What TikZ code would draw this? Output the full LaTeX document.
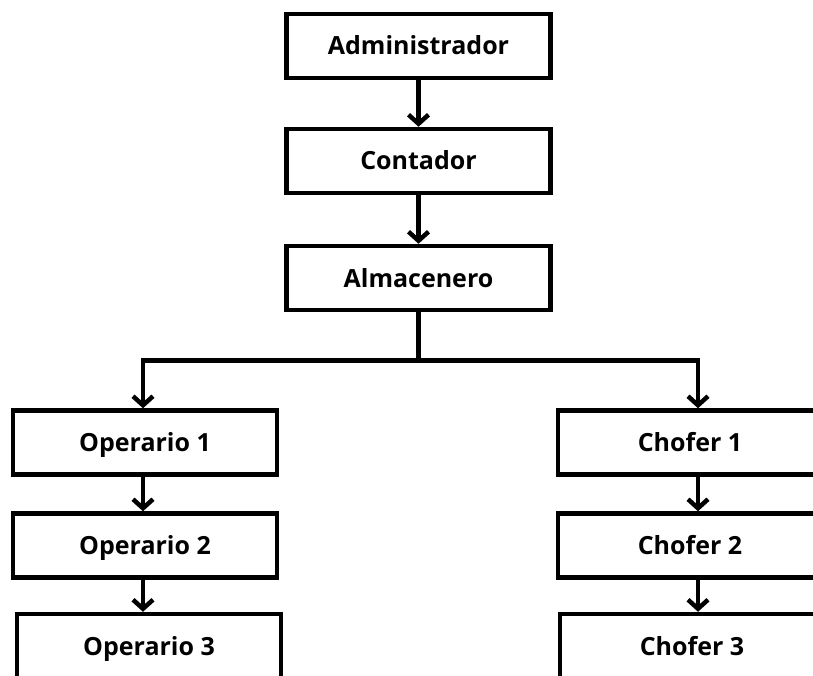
\documentclass[tikz,border=0pt]{standalone}
\usepackage{fontspec}
\setmainfont{Open Sans}
\usetikzlibrary{arrows.meta}
\begin{document}
\begin{tikzpicture}[x=1pt,y=1pt,
  box/.style={draw=black, line width=4.5pt, fill=white, rectangle,
    minimum width=264pt, minimum height=64pt, inner sep=0pt,
    text height=18pt, text depth=0pt,
    font=\fontsize{25}{29}\selectfont\bfseries},
  link/.style={line width=4.5pt, -{Straight Barb[length=9pt,width=20pt,line width=4.5pt]}}]
\clip (0,0) rectangle (813,-676);
\fill[white] (0,0) rectangle (813,-676);
% top chain
\node[box] (adm) at (418.5,-46) {Administrador};
\node[box] (con) at (418.5,-161) {Contador};
\node[box] (alm) at (418.5,-278) {Almacenero};
% left column
\node[box] (op1) at (145,-442.5) {Operario 1};
\node[box] (op2) at (145,-545.5) {Operario 2};
\node[box] (op3) at (149,-646) {Operario 3};
% right column
\node[box] (ch1) at (690,-442.5) {Chofer 1};
\node[box] (ch2) at (690,-545.5) {Chofer 2};
\node[box] (ch3) at (692,-646) {Chofer 3};
% connectors
\draw[link] (adm.south) -- (con.north);
\draw[link] (con.south) -- (alm.north);
\coordinate (split) at ([yshift=-48pt]alm.south);
\draw[line width=4.5pt] (alm.south) -- (split);
\draw[link] (split) -| ([xshift=-2pt]op1.north);
\draw[link] (split) -| ([xshift=8pt]ch1.north);
\draw[link] ([xshift=-2pt]op1.south) -- ([xshift=-2pt]op2.north);
\draw[link] ([xshift=-2pt]op2.south) -- ([xshift=-6pt]op3.north);
\draw[link] ([xshift=8pt]ch1.south) -- ([xshift=8pt]ch2.north);
\draw[link] ([xshift=8pt]ch2.south) -- ([xshift=6pt]ch3.north);
\end{tikzpicture}
\end{document}
